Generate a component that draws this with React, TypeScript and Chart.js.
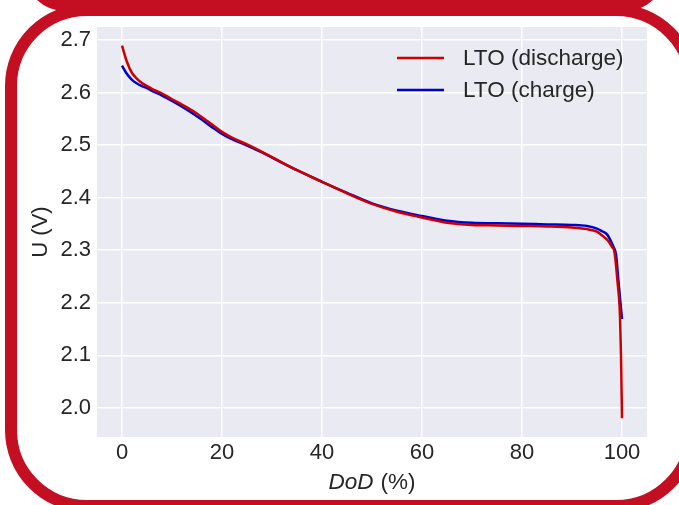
import React, { useEffect, useRef } from 'react';
import { Chart, registerables } from 'chart.js';

Chart.register(...registerables);

// ---- data ----
const dischargeDoD = [0, 1, 2, 3, 4, 5, 6, 8, 10, 12, 14, 16, 18, 20, 22, 25, 28, 30, 35, 40, 45, 50, 55, 60, 65, 70, 75, 80, 85, 90, 93, 95, 96, 97, 97.5, 98, 98.5, 99.1, 99.6, 99.8, 100];
const dischargeU = [2.689, 2.658, 2.637, 2.626, 2.618, 2.612, 2.607, 2.598, 2.587, 2.577, 2.566, 2.553, 2.539, 2.525, 2.514, 2.501, 2.487, 2.477, 2.452, 2.43, 2.408, 2.388, 2.373, 2.362, 2.352, 2.348, 2.347, 2.346, 2.345, 2.343, 2.34, 2.335, 2.328, 2.32, 2.314, 2.306, 2.296, 2.24, 2.175, 2.1, 1.98];

const chargeDoD = [0, 1, 2, 3, 4, 5, 6, 8, 10, 12, 14, 16, 18, 20, 22, 25, 28, 30, 35, 40, 45, 50, 55, 60, 65, 70, 75, 80, 85, 90, 93, 95, 96, 97, 97.8, 98.3, 98.8, 99.3, 100];
const chargeU = [2.651, 2.635, 2.624, 2.617, 2.612, 2.608, 2.603, 2.594, 2.584, 2.573, 2.561, 2.548, 2.534, 2.521, 2.511, 2.499, 2.486, 2.476, 2.452, 2.43, 2.409, 2.389, 2.375, 2.365, 2.356, 2.352, 2.351, 2.35, 2.349, 2.348, 2.346, 2.341, 2.336, 2.33, 2.317, 2.306, 2.292, 2.24, 2.169];

const xTickValues = [0, 20, 40, 60, 80, 100];
const yTickValues = [2.0, 2.1, 2.2, 2.3, 2.4, 2.5, 2.6, 2.7];

const seriesLabels = ['LTO (discharge)', 'LTO (charge)'];
const seriesColors = ['#cc0000', '#0000cc'];

const xTitleItalic = 'DoD';
const xTitleRest = '(%)';
const yTitle = 'U (V)';

const X_MIN = -5;
const X_MAX = 105;
const Y_MIN = 1.9445;
const Y_MAX = 2.7245;

// ---- styles ----
const FONT_FAMILY = '"Liberation Sans", Arial, Helvetica, sans-serif';
const TEXT_COLOR = '#262626';
const PLOT_BG = '#eaeaf2';
const FRAME_COLOR = '#c40e22';

const decorPlugin = {
  id: 'decor',
  beforeDraw(chart: any) {
    const { ctx, chartArea } = chart;
    ctx.save();
    ctx.fillStyle = PLOT_BG;
    ctx.fillRect(chartArea.left, chartArea.top, chartArea.right - chartArea.left, chartArea.bottom - chartArea.top);
    ctx.restore();
  },
  afterDraw(chart: any) {
    const { ctx, chartArea } = chart;
    ctx.save();

    // legend (inside plot, upper right)
    const x0 = chartArea.right - 250;
    const lineLen = 47;
    ctx.font = `22.5px ${FONT_FAMILY}`;
    ctx.textBaseline = 'middle';
    ctx.textAlign = 'left';
    chart.data.datasets.forEach((ds: any, i: number) => {
      const y = chartArea.top + 31 + i * 32;
      ctx.strokeStyle = ds.borderColor;
      ctx.lineWidth = 2.5;
      ctx.beginPath();
      ctx.moveTo(x0, y);
      ctx.lineTo(x0 + lineLen, y);
      ctx.stroke();
      ctx.fillStyle = TEXT_COLOR;
      ctx.fillText(ds.label, x0 + lineLen + 19, y + 1);
    });

    // x axis title: italic "DoD" + normal "(%)"
    const italicFont = `italic 22.5px ${FONT_FAMILY}`;
    const normalFont = `22.5px ${FONT_FAMILY}`;
    ctx.font = italicFont;
    const w1 = ctx.measureText(xTitleItalic).width;
    ctx.font = normalFont;
    const w2 = ctx.measureText(xTitleRest).width;
    const gap = 7;
    const total = w1 + gap + w2;
    const cx = (chartArea.left + chartArea.right) / 2;
    const by = chartArea.bottom + 52;
    ctx.textBaseline = 'alphabetic';
    ctx.fillStyle = TEXT_COLOR;
    ctx.font = italicFont;
    ctx.fillText(xTitleItalic, cx - total / 2, by);
    ctx.font = normalFont;
    ctx.fillText(xTitleRest, cx - total / 2 + w1 + gap, by);
    ctx.restore();
  },
};

function Frame() {
  // decorative red rounded frames drawn as SVG over the chart
  return (
    <svg
      width={679}
      height={505}
      style={{ position: 'absolute', left: 0, top: 0, pointerEvents: 'none' }}
    >
      <rect x={11} y={10} width={681} height={496} rx={76} ry={76} fill="none" stroke={FRAME_COLOR} strokeWidth={12} />
      <rect x={30} y={-495} width={630} height={500} rx={35} ry={35} fill="none" stroke={FRAME_COLOR} strokeWidth={12} />
    </svg>
  );
}

export default function App() {
  const canvasRef = useRef<HTMLCanvasElement | null>(null);

  useEffect(() => {
    if (!canvasRef.current) return;
    const tickFont = { family: FONT_FAMILY, size: 22 };
    const chart = new Chart(canvasRef.current, {
      type: 'line',
      data: {
        datasets: [
          {
            label: seriesLabels[0],
            data: dischargeDoD.map((x, i) => ({ x, y: dischargeU[i] })),
            borderColor: seriesColors[0],
            backgroundColor: seriesColors[0],
            borderWidth: 2.5,
            pointRadius: 0,
            fill: false,
            cubicInterpolationMode: 'monotone',
          },
          {
            label: seriesLabels[1],
            data: chargeDoD.map((x, i) => ({ x, y: chargeU[i] })),
            borderColor: seriesColors[1],
            backgroundColor: seriesColors[1],
            borderWidth: 2.5,
            pointRadius: 0,
            fill: false,
            cubicInterpolationMode: 'monotone',
          },
        ],
      },
      options: {
        animation: false,
        responsive: false,
        maintainAspectRatio: false,
        layout: { padding: { top: 27, right: 32, left: 0, bottom: 0 } },
        plugins: {
          legend: { display: false },
          tooltip: { enabled: false },
        },
        scales: {
          x: {
            type: 'linear',
            min: X_MIN,
            max: X_MAX,
            afterBuildTicks: (s: any) => {
              s.ticks = xTickValues.map((v) => ({ value: v }));
            },
            afterFit: (s: any) => {
              s.height = 68;
            },
            grid: { color: '#ffffff', lineWidth: 1.5, drawTicks: false },
            border: { display: false },
            ticks: {
              padding: 3,
              font: tickFont,
              color: TEXT_COLOR,
              maxRotation: 0,
              autoSkip: false,
              callback: (v: any) => String(v),
            },
          },
          y: {
            type: 'linear',
            min: Y_MIN,
            max: Y_MAX,
            afterBuildTicks: (s: any) => {
              s.ticks = yTickValues.map((v) => ({ value: v }));
            },
            afterFit: (s: any) => {
              s.width = 97;
            },
            grid: { color: '#ffffff', lineWidth: 1.5, drawTicks: false },
            border: { display: false },
            ticks: {
              padding: 6,
              font: tickFont,
              color: TEXT_COLOR,
              autoSkip: false,
              callback: (v: any) => Number(v).toFixed(1),
            },
            title: {
              display: true,
              text: yTitle,
              font: { family: FONT_FAMILY, size: 22 },
              color: TEXT_COLOR,
              padding: { top: 28, bottom: 0 },
            },
          },
        },
      },
      plugins: [decorPlugin],
    } as any);
    return () => chart.destroy();
  }, []);

  return (
    <div style={{ position: 'fixed', left: 0, top: 0, width: 679, height: 505, background: '#ffffff', overflow: 'hidden' }}>
      <canvas ref={canvasRef} width={679} height={505} style={{ display: 'block', width: 679, height: 505 }} />
      <Frame />
    </div>
  );
}
